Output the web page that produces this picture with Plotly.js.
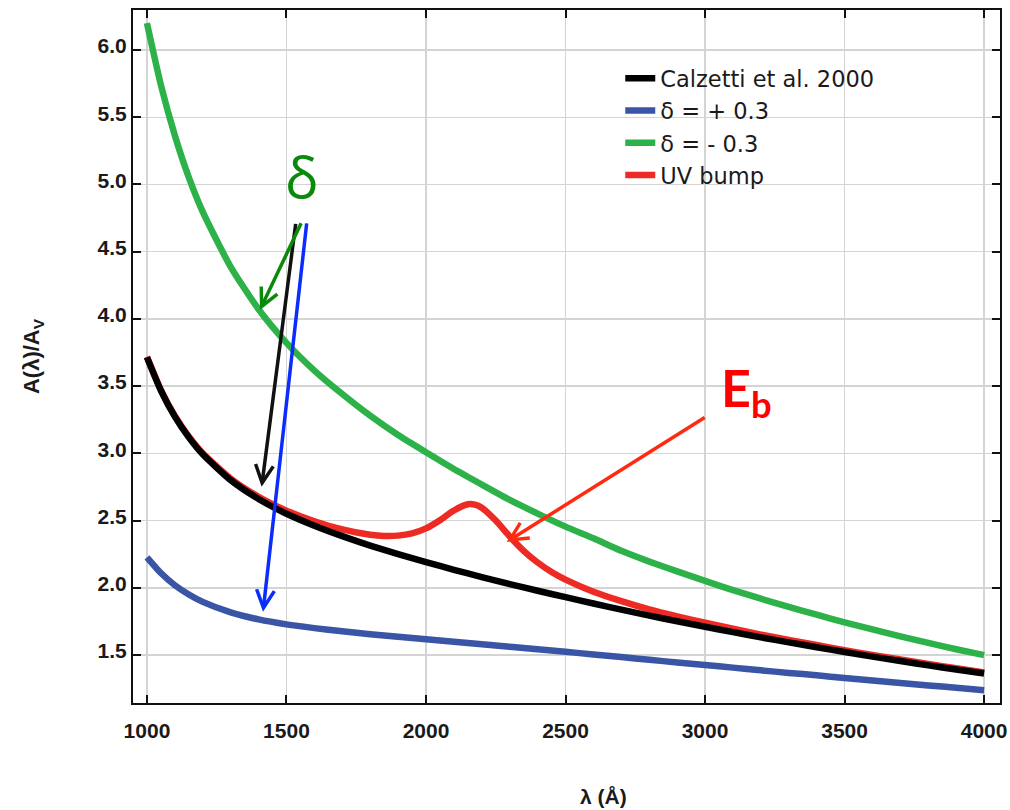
<!DOCTYPE html>
<html>
<head>
<meta charset="utf-8">
<script src="https://cdn.plot.ly/plotly-3.0.1.min.js"></script>
<style>html,body{margin:0;padding:0;background:#fff;}#chart{width:1010px;height:810px;}</style>
</head>
<body>
<div id="chart"></div>
<script>
// Wavelength grid (Å) shared by the three smooth curves
const wavelength = [1000,1050,1100,1150,1200,1300,1400,1500,1600,1700,1800,1900,2000,2100,2200,2300,2400,2500,2600,2700,2800,2900,3000,3100,3200,3300,3400,3500,3600,3700,3800,3900,4000];
// Calzetti et al. 2000, A(λ)/A_V
const calzetti = [3.714,3.467,3.273,3.119,2.993,2.801,2.661,2.551,2.462,2.384,2.314,2.251,2.191,2.134,2.080,2.028,1.978,1.930,1.883,1.838,1.793,1.751,1.710,1.670,1.631,1.594,1.558,1.522,1.488,1.455,1.423,1.392,1.362];
// δ = +0.3
const deltaPlus = [2.227,2.110,2.019,1.950,1.895,1.817,1.765,1.728,1.700,1.676,1.655,1.636,1.617,1.599,1.580,1.561,1.542,1.524,1.504,1.485,1.464,1.445,1.426,1.406,1.386,1.367,1.349,1.329,1.310,1.292,1.274,1.256,1.238];
// δ = -0.3
const deltaMinus = [6.200,5.740,5.365,5.053,4.796,4.387,4.072,3.822,3.616,3.441,3.280,3.136,3.008,2.884,2.768,2.654,2.552,2.455,2.368,2.275,2.195,2.122,2.051,1.983,1.919,1.858,1.800,1.743,1.690,1.639,1.590,1.543,1.499];
// UV bump curve (denser around 2175 Å)
const bumpWavelength = [1000,1050,1100,1150,1200,1300,1400,1500,1600,1700,1800,1850,1900,1950,2000,2050,2100,2150,2175,2200,2250,2300,2350,2400,2450,2500,2600,2700,2800,2900,3000,3100,3200,3300,3400,3500,3600,3700,3800,3900,4000];
const uvBump = [3.719,3.472,3.279,3.126,3.001,2.813,2.677,2.574,2.495,2.434,2.394,2.385,2.388,2.405,2.442,2.503,2.575,2.621,2.618,2.595,2.500,2.382,2.275,2.188,2.118,2.061,1.971,1.901,1.840,1.788,1.740,1.695,1.652,1.612,1.574,1.536,1.500,1.466,1.433,1.401,1.370];

const seriesNames = ['Calzetti et al. 2000', 'δ = + 0.3', 'δ = - 0.3', 'UV bump'];
const xTicks = [1000,1500,2000,2500,3000,3500,4000];
const yTicks = [1.5,2.0,2.5,3.0,3.5,4.0,4.5,5.0,5.5,6.0];
const yTickText = ['1.5','2.0','2.5','3.0','3.5','4.0','4.5','5.0','5.5','6.0'];

const LW = 6.5;
const lineShape = {shape: 'spline', smoothing: 0.6};
const traces = [
  {x: wavelength, y: deltaMinus, name: seriesNames[2], mode: 'lines', line: Object.assign({color: '#2db24a', width: LW}, lineShape), legendrank: 3},
  {x: wavelength, y: deltaPlus, name: seriesNames[1], mode: 'lines', line: Object.assign({color: '#3b55a6', width: LW}, lineShape), legendrank: 2},
  {x: bumpWavelength, y: uvBump, name: seriesNames[3], mode: 'lines', line: Object.assign({color: '#ee2a24', width: LW}, lineShape), legendrank: 4},
  {x: wavelength, y: calzetti, name: seriesNames[0], mode: 'lines', line: Object.assign({color: '#000000', width: LW}, lineShape), legendrank: 1}
];

const tickFont = {family: 'Liberation Sans, Arial, sans-serif', size: 21, color: '#1a1a1a', weight: 'bold'};

const layout = {
  width: 1010, height: 810,
  margin: {l: 133, r: 10, t: 10, b: 107},
  paper_bgcolor: '#fff', plot_bgcolor: '#fff',
  showlegend: true,
  legend: {
    x: 0.562, y: 0.932, xanchor: 'left', yanchor: 'top',
    bgcolor: 'rgba(0,0,0,0)', borderwidth: 0,
    font: {family: 'DejaVu Sans, sans-serif', size: 22.5, color: '#1a1a1a'},
    tracegroupgap: 0
  },
  xaxis: {
    range: [950, 4057], tickvals: xTicks, ticktext: xTicks.map(String),
    showgrid: true, gridcolor: '#d4d4d4', gridwidth: 1.5,
    showline: true, linecolor: '#111', linewidth: 2, mirror: 'ticks',
    ticks: 'inside', ticklen: 8, tickwidth: 2, tickcolor: '#111',
    tickfont: tickFont, zeroline: false, ticklabelstandoff: 8
  },
  yaxis: {
    range: [1.143, 6.298], tickvals: yTicks, ticktext: yTickText,
    showgrid: true, gridcolor: '#d4d4d4', gridwidth: 1.5,
    showline: true, linecolor: '#111', linewidth: 2, mirror: 'ticks',
    ticks: 'inside', ticklen: 8, tickwidth: 2, tickcolor: '#111',
    tickfont: tickFont, zeroline: false, ticklabelshift: -4,
    title: {text: 'A(λ)/A<sub>V</sub>', font: {family: 'Liberation Sans, Arial, sans-serif', size: 22, color: '#1a1a1a', weight: 'bold'}, standoff: 52}
  },
  annotations: [
    {xref: 'paper', yref: 'paper', x: 0.543, y: -0.135, xanchor: 'center', yanchor: 'middle', showarrow: false,
     text: '<b>λ (Å)</b>', font: {family: 'Liberation Sans, Arial, sans-serif', size: 21, color: '#1a1a1a'}},
    // δ label with the arrow to the Calzetti curve
    {xref: 'x', yref: 'y', x: 1411, y: 2.752, axref: 'x', ayref: 'y', ax: 1555, ay: 5.06, text: 'δ',
     font: {family: 'Open Sans, Noto Sans, sans-serif', size: 56, color: '#0a8a0a'},
     showarrow: true, arrowhead: 5, arrowsize: 1, arrowwidth: 3.5, arrowcolor: '#111', startstandoff: 8},
    {xref: 'x', yref: 'y', x: 1405, y: 4.067, axref: 'x', ayref: 'y', ax: 1555, ay: 4.722, text: '',
     showarrow: true, arrowhead: 5, arrowsize: 1, arrowwidth: 3.5, arrowcolor: '#0a8a0a'},
    {xref: 'x', yref: 'y', x: 1416, y: 1.822, axref: 'x', ayref: 'y', ax: 1573, ay: 4.722, text: '',
     showarrow: true, arrowhead: 5, arrowsize: 1, arrowwidth: 3.5, arrowcolor: '#0a2cff'},
    // E_b label with its arrow to the bump
    {xref: 'x', yref: 'y', x: 2289, y: 2.341, axref: 'x', ayref: 'y', ax: 3150, ay: 3.465, text: '<b>E<sub>b</sub></b>',
     font: {family: 'Lato, Open Sans, sans-serif', size: 52, color: '#ff0000'},
     showarrow: true, arrowhead: 5, arrowsize: 1, arrowwidth: 3.5, arrowcolor: '#ff2a10', startstandoff: 18}
  ]
};

Plotly.newPlot('chart', traces, layout, {displayModeBar: false, staticPlot: true});
</script>
</body>
</html>
